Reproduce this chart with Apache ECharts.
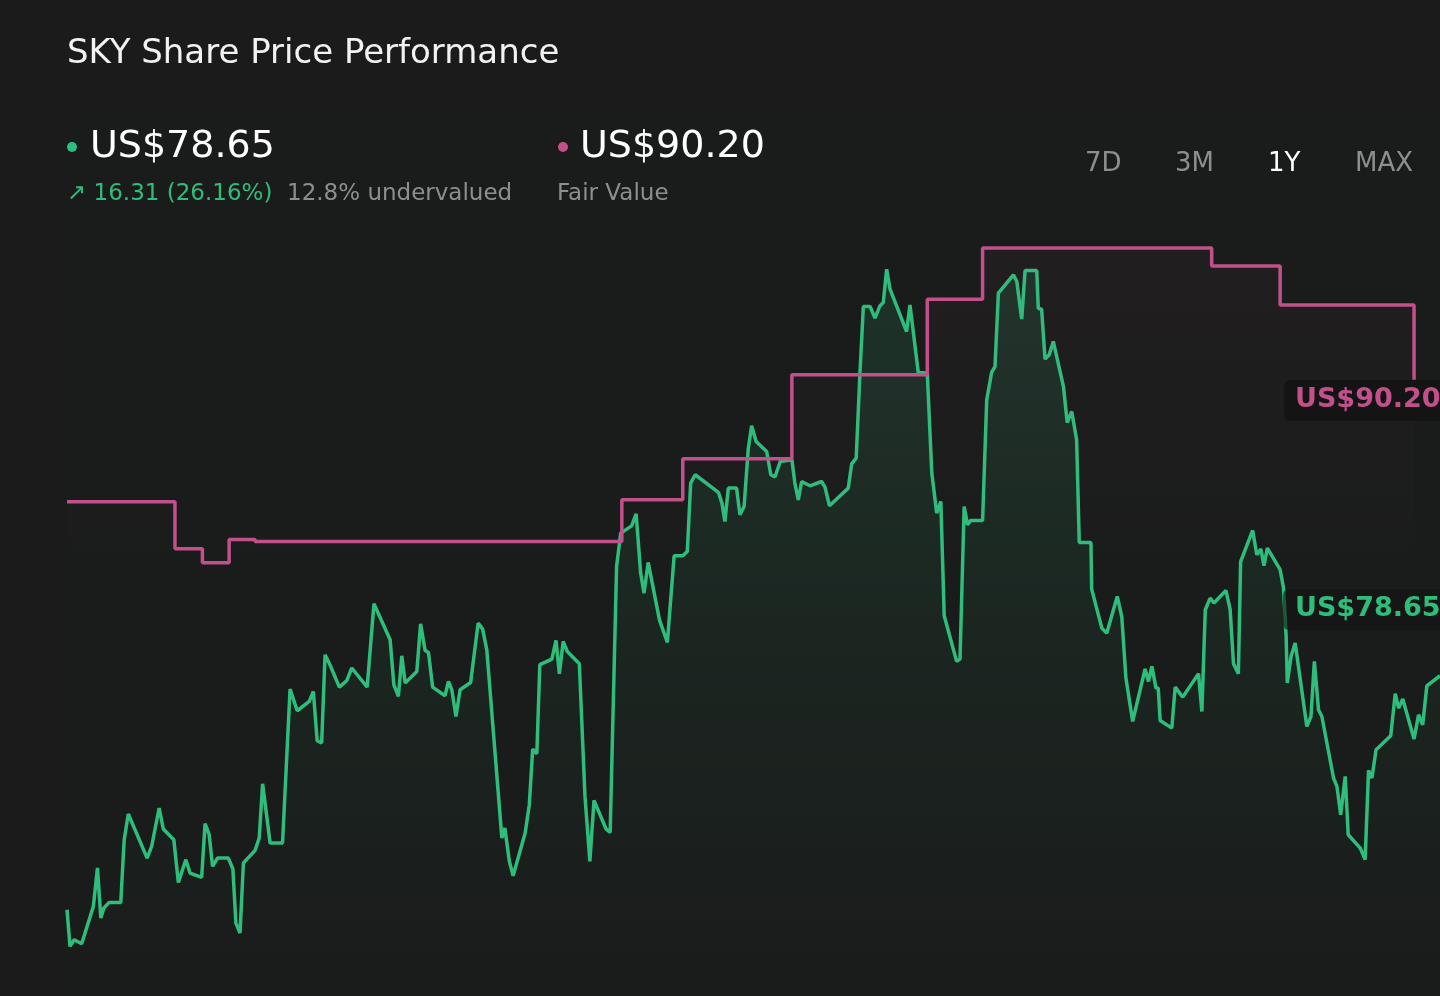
<!DOCTYPE html>
<html>
<head>
<meta charset="utf-8">
<title>SKY Share Price Performance</title>
<script src="https://cdn.jsdelivr.net/npm/echarts@6/dist/echarts.min.js"></script>
<style>
  html, body { margin: 0; padding: 0; background: #1b1b1b; }
  #chart { width: 1440px; height: 996px; }
</style>
</head>
<body>
<div id="chart"></div>
<script>
// share price, day index within the 1Y window -> US$
var priceDays = [
    0, 0.8, 1.9, 3.9, 7.0, 8.1, 9.0, 9.8, 11.2, 14.3,
    15.2, 16.3, 21.3, 22.5, 24.5, 25.6, 28.4, 29.6, 31.6, 32.7,
    35.8, 36.7, 37.8, 38.7, 40.0, 42.9, 44.1, 44.9, 46.0, 46.9,
    50.0, 51.1, 52.0, 54.0, 57.3, 59.3, 61.2, 64.4, 65.5, 66.5,
    67.7, 68.6, 69.9, 72.4, 74.4, 75.7, 79.8, 81.6, 85.9, 86.9,
    88.1, 89.0, 89.9, 93.0, 94.0, 95.2, 96.1, 97.2, 100.5, 101.4,
    102.3, 103.4, 104.5, 107.3, 109.3, 110.5, 111.6, 115.6, 116.4, 117.6,
    118.6, 121.8, 122.9, 123.8, 124.9, 125.7, 128.9, 130.0, 130.9, 131.9,
    133.0, 136.2, 137.7, 139.0, 140.1, 143.3, 144.4, 146.1, 147.2, 147.7,
    150.1, 151.3, 152.5, 153.4, 154.5, 157.5, 159.6, 161.4, 163.7, 164.9,
    165.8, 167.0, 172.3, 173.2, 174.1, 174.9, 175.8, 178.0, 178.9, 180.0,
    181.1, 182.0, 183.2, 186.0, 187.1, 188.2, 189.6, 192.7, 193.5, 194.4,
    195.3, 197.5, 200.6, 201.5, 202.7, 207.7, 208.6, 209.8, 210.8, 211.7,
    213.5, 214.8, 216.1, 217.0, 217.9, 218.8, 223.2, 224.1, 226.3, 228.7,
    229.9, 231.2, 232.3, 233.2, 236.5, 237.4, 238.5, 239.4, 240.2, 243.4,
    244.5, 245.8, 246.7, 247.6, 251.6, 252.5, 253.8, 254.7, 257.8, 258.2,
    259.1, 260.0, 261.1, 262.2, 264.9, 265.9, 267.1, 268.4, 269.1, 272.2,
    272.4, 275.1, 276.4, 279.2, 280.4, 281.5, 283.3, 286.6, 287.5, 288.4,
    289.5, 290.1, 290.6, 293.7, 294.6, 296.6, 300.8, 301.7, 302.6, 303.9,
    304.9, 308.1, 309.2, 310.1, 311.4, 312.0, 315.2, 316.3, 317.4, 318.2,
    319.1, 322.5, 323.4, 324.1, 324.4, 325.4, 326.5, 329.6, 330.7, 331.6,
    332.7, 333.6, 336.7, 337.6, 338.6, 339.8, 340.6, 343.8, 345.1, 346.0,
    346.9, 348.0, 351.9, 353.1, 354.0, 355.1, 358.1, 359.3, 360.4, 361.5,
    365.0
];
var priceValues = [
    62.34, 59.79, 60.25, 59.97, 62.57, 65.25, 61.76, 62.46, 62.85, 62.85,
    67.22, 69.01, 65.94, 66.75, 69.43, 67.97, 67.22, 64.24, 65.83, 64.90,
    64.59, 68.34, 67.57, 65.36, 65.94, 65.94, 65.18, 61.41, 60.72, 65.60,
    66.48, 67.34, 71.12, 66.99, 66.99, 77.72, 76.21, 76.86, 77.55, 74.12,
    73.96, 80.11, 79.42, 77.86, 78.32, 79.19, 77.86, 83.67, 81.16, 78.02,
    77.21, 80.04, 78.14, 78.95, 82.27, 80.41, 80.27, 77.86, 77.26, 78.25,
    77.67, 75.81, 77.67, 78.18, 82.32, 81.90, 80.46, 67.34, 68.04, 65.71,
    64.71, 67.69, 69.66, 73.54, 73.21, 79.42, 79.81, 81.11, 78.79, 81.04,
    80.34, 79.49, 70.24, 65.71, 69.96, 67.97, 67.73, 86.27, 88.59, 88.71,
    89.10, 89.94, 85.81, 84.41, 86.55, 82.55, 80.97, 87.01, 87.01, 87.31,
    92.08, 92.66, 91.61, 91.42, 90.69, 89.40, 91.73, 91.73, 89.87, 90.45,
    94.45, 96.07, 94.98, 94.28, 92.66, 92.50, 93.58, 93.70, 92.08, 90.91,
    92.19, 91.89, 92.19, 91.80, 90.50, 91.73, 93.42, 93.82, 99.75, 104.39,
    104.39, 103.58, 104.43, 104.66, 106.99, 105.60, 102.64, 104.50, 99.79, 99.75,
    92.78, 89.99, 90.80, 82.83, 79.65, 79.81, 90.45, 89.17, 89.47, 89.47,
    97.88, 99.79, 100.20, 105.32, 106.60, 106.13, 103.51, 106.90, 106.90, 104.27,
    104.20, 100.72, 101.02, 101.95, 98.81, 96.30, 97.07, 95.10, 87.94, 87.94,
    84.69, 81.97, 81.62, 84.18, 82.78, 78.49, 75.47, 79.12, 78.25, 79.30,
    77.79, 77.79, 75.53, 75.00, 77.86, 77.16, 78.79, 76.16, 83.25, 84.06,
    83.72, 84.59, 83.30, 79.49, 78.79, 86.61, 88.78, 87.08, 87.48, 86.32,
    87.55, 86.04, 84.78, 81.39, 78.14, 79.99, 80.93, 75.12, 75.81, 79.65,
    76.28, 75.81, 71.52, 70.94, 68.96, 71.63, 67.57, 66.64, 65.83, 72.05,
    71.52, 73.49, 74.47, 77.40, 76.40, 77.03, 74.24, 75.93, 75.23, 77.95,
    78.65
];

// fair value estimate, changes on these days (step line)
var fairDays   = [0, 28.7, 36.0, 43.1, 50.0, 147.5, 163.7, 192.7, 228.7, 243.4, 304.3, 322.5, 358.1];
var fairValues = [90.78, 87.50, 86.53, 88.15, 88.01, 90.91, 93.77, 99.63, 104.90, 108.46, 107.22, 104.50, 99.28];

var lastPrice    = 78.65;
var fairValue    = 90.20;
var changeText   = '16.31 (26.16%)';
var valuedText   = '12.8% undervalued';
var rangeButtons = ['7D', '3M', '1Y', 'MAX'];
var activeRange  = '1Y';

var GREEN = '#2fbd7c';
var PINK  = '#c2508b';
var GREY  = '#8e8e8e';
var FONT  = 'DejaVu Sans';

var priceData = priceDays.map(function(d, i) { return [d, priceValues[i]]; });
var fairData  = fairDays.map(function(d, i) { return [d, fairValues[i]]; });

var btnX = [1085, 1175, 1268, 1355];
var graphics = [
    // chart panel
    { type: 'rect', z: -10, shape: { x: 67, y: 118, width: 1373, height: 878 }, style: { fill: '#1a1c1b' } },
    { type: 'text', x: 67, y: 54, style: { text: 'SKY Share Price Performance', fill: '#f2f2f2', font: '34px "' + FONT + '"', textVerticalAlign: 'middle' } },
    { type: 'circle', shape: { cx: 72, cy: 147, r: 5 }, style: { fill: GREEN } },
    { type: 'text', x: 90, y: 147, style: { text: 'US$' + lastPrice.toFixed(2), fill: '#ffffff', font: '38px "' + FONT + '"', textVerticalAlign: 'middle' } },
    { type: 'text', x: 67, y: 194, style: { text: '\u2197 ' + changeText, fill: GREEN, font: '23px "' + FONT + '"', textVerticalAlign: 'middle' } },
    { type: 'text', x: 287, y: 194, style: { text: valuedText, fill: GREY, font: '23px "' + FONT + '"', textVerticalAlign: 'middle' } },
    { type: 'circle', shape: { cx: 563, cy: 147, r: 5 }, style: { fill: PINK } },
    { type: 'text', x: 580, y: 147, style: { text: 'US$' + fairValue.toFixed(2), fill: '#ffffff', font: '38px "' + FONT + '"', textVerticalAlign: 'middle' } },
    { type: 'text', x: 557, y: 194, style: { text: 'Fair Value', fill: GREY, font: '23px "' + FONT + '"', textVerticalAlign: 'middle' } },
    // value tags on the right
    { type: 'rect', z: 20, shape: { x: 1284, y: 380, width: 170, height: 41, r: 6 }, style: { fill: 'rgba(18,18,18,0.75)' } },
    { type: 'text', z: 21, x: 1295, y: 400, style: { text: 'US$' + fairValue.toFixed(2), fill: PINK, font: 'bold 27px "' + FONT + '"', textVerticalAlign: 'middle' } },
    { type: 'rect', z: 20, shape: { x: 1283, y: 589, width: 170, height: 41, r: 6 }, style: { fill: 'rgba(18,18,18,0.6)' } },
    { type: 'text', z: 21, x: 1295, y: 609, style: { text: 'US$' + lastPrice.toFixed(2), fill: GREEN, font: 'bold 27px "' + FONT + '"', textVerticalAlign: 'middle' } }
];
rangeButtons.forEach(function(b, i) {
    graphics.push({
        type: 'text', x: btnX[i], y: 164,
        style: { text: b, fill: b === activeRange ? '#ffffff' : GREY, font: '26px "' + FONT + '"', textVerticalAlign: 'middle' }
    });
});

var chart = echarts.init(document.getElementById('chart'));
var option = {
    backgroundColor: '#1b1b1b',
    animation: false,
    grid: { left: 67, right: 0, top: 226, bottom: 24 },
    xAxis: { type: 'value', min: 0, max: 365, show: false },
    yAxis: { type: 'value', min: 58, max: 110, show: false, splitLine: { show: false } },
    graphic: graphics,
    series: [
        {
            name: 'Share Price',
            type: 'line',
            data: priceData,
            showSymbol: false,
            silent: true,
            z: 2,
            lineStyle: { color: GREEN, width: 3.5 },
            areaStyle: {
                color: new echarts.graphic.LinearGradient(0, 0, 0, 1, [
                    { offset: 0, color: 'rgba(47,189,124,0.20)' },
                    { offset: 0.6, color: 'rgba(47,189,124,0.07)' },
                    { offset: 1, color: 'rgba(47,189,124,0.0)' }
                ])
            }
        },
        {
            name: 'Fair Value',
            type: 'line',
            step: 'end',
            data: fairData,
            showSymbol: false,
            silent: true,
            z: 3,
            lineStyle: { color: PINK, width: 3.5 },
            areaStyle: {
                color: new echarts.graphic.LinearGradient(0, 0, 0, 1, [
                    { offset: 0, color: 'rgba(194,80,139,0.06)' },
                    { offset: 0.45, color: 'rgba(194,80,139,0.0)' }
                ])
            }
        }
    ]
};
chart.setOption(option);
</script>
</body>
</html>
